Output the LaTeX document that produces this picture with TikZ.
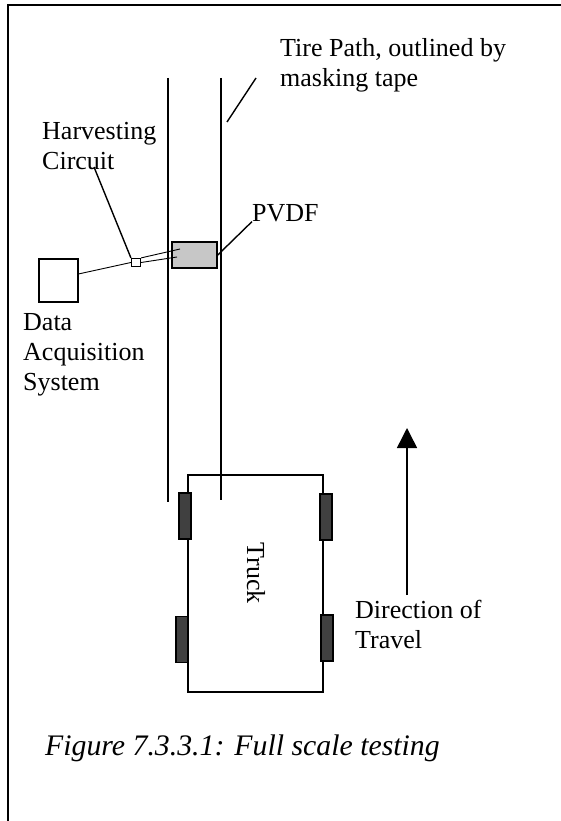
\documentclass[tikz,border=0pt]{standalone}
\usepackage{fontspec}
\setmainfont{Liberation Serif}
\usetikzlibrary{arrows.meta}

\begin{document}
\begin{tikzpicture}[x=1pt, y=-1pt,
	every node/.style={font=\fontsize{26}{30}\selectfont, inner sep=0pt, align=left},
	>={Triangle[length=20pt, width=20pt]},
	tape/.style={line width=1.5pt},
	wire/.style={line width=0.9pt},
	leader/.style={line width=1.4pt},
	box/.style={draw, line width=1.5pt},
	wheel/.style={draw, line width=1.5pt, fill=black!75, minimum width=12pt, minimum height=46pt}]
	\useasboundingbox (0,0) rectangle (560,821);
	% frame
	\draw[line width=1.5pt] (8,840) -- (8,5) -- (580,5);
	% tire path
	\draw[tape] (168,78) -- (168,502);
	\draw[tape] (221,78) -- (221,500);
	\node[anchor=base west] (tirelbl) at (280,87) {Tire Path, outlined by\\masking tape};
	\coordinate (tiretop) at (256,78);
	\coordinate (tirebot) at (227,122);
	\draw[leader] (tiretop) -- (tirebot);
	% sensor and circuit
	\node[box, minimum width=39pt, minimum height=43pt] (daq) at (58.5,280.5) {};
	\node[draw, fill=white, line width=1.2pt, minimum width=9pt, minimum height=8pt] (hc) at (136,262.5) {};
	\node[box, fill=black!22, minimum width=45pt, minimum height=26pt] (pvdf) at (194.5,255) {};
	\coordinate (w1) at (180,249);
	\coordinate (w2) at (177,257);
	\draw[wire] (daq.18) -- (hc.west);
	\draw[wire] (hc.north east) -- (w1);
	\draw[wire] (hc.east) -- (w2);
	% labels
	\node[anchor=base west] (hclbl) at (42,170) {Harvesting\\Circuit};
	\coordinate (hctip) at (94,167);
	\draw[leader] (hctip) -- (hc.north west);
	\node[anchor=base west] (pvdflbl) at (252,221) {PVDF};
	\draw[leader] (pvdf.east) -- (pvdflbl.south west);
	\node[anchor=base west] (daqlbl) at (23,390) {Data\\Acquisition\\System};
	% truck
	\node[draw, line width=1.1pt, minimum width=135pt, minimum height=217pt] (truck) at (255.5,583.5) {};
	\node[rotate=-90] (trucklbl) at (256,573) {Truck};
	\node[wheel] (wtl) at (185,516) {};
	\node[wheel] (wtr) at (326,517) {};
	\node[wheel] (wbl) at (182,639.5) {};
	\node[wheel] (wbr) at (327,638) {};
	% direction
	\coordinate (arrbot) at (407,595);
	\coordinate (arrtop) at (407,428);
	\draw[->, line width=1.5pt] (arrbot) -- (arrtop);
	\node[anchor=base west] (dirlbl) at (355,648) {Direction of\\Travel};
	% caption
	\node[anchor=base west, font=\fontsize{29.8}{34}\selectfont\itshape] (caption) at (45,755) {Figure 7.3.3.1: Full scale testing};
\end{tikzpicture}
\end{document}
